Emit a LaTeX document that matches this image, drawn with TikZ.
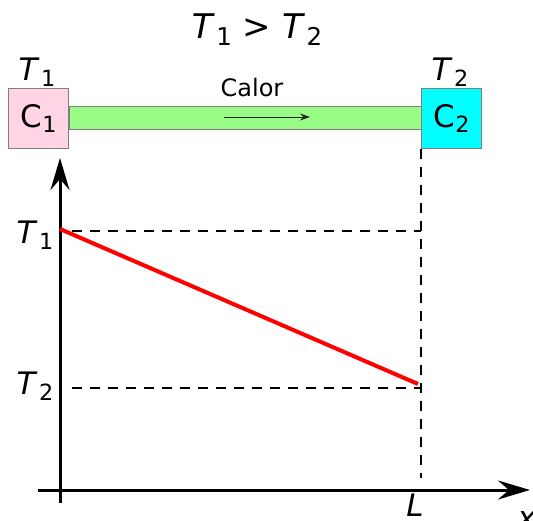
\documentclass[tikz,border=0pt]{standalone}
\usepackage{fontspec}
\setmainfont{DejaVu Sans}
\usepackage{graphicx}
\usepackage{xcolor}
\usetikzlibrary{arrows.meta,positioning,calc}
\definecolor{cPink}{HTML}{FFD5E5}
\definecolor{cRod}{HTML}{99FC86}
\definecolor{cCyan}{HTML}{00FFFF}
\definecolor{cEdge}{HTML}{7F7F7F}
\definecolor{cInk}{HTML}{000000}
\definecolor{cHot}{HTML}{FF0000}
\newcommand\Tq[1]{\textit{T}\kern1.5pt\raisebox{-0.33ex}{\scalebox{0.72}{#1}}}
\newcommand\Cq[1]{C\kern0.5pt\raisebox{-0.33ex}{\scalebox{0.72}{#1}}}
\tikzset{
  >=Stealth,
  blk/.style ={draw=cEdge,line width=1pt,minimum size=60pt,inner sep=0pt,font=\fontsize{31}{31}\selectfont},
  lbl/.style ={inner sep=0pt,anchor=base,font=\fontsize{31}{31}\selectfont},
  axis/.style={-{Stealth[length=32pt,width=19pt,inset=11pt]},line width=3pt,cInk},
  guide/.style={dash pattern=on 10pt off 8pt,line width=2pt,cInk},
  prof/.style={line width=4pt,cHot},
}

\begin{document}
\begin{tikzpicture}[x=1pt,y=-1pt]
\useasboundingbox (0,0) rectangle (533,521);
% title
\node[lbl,font=\fontsize{34}{34}\selectfont] (ttl) at (257,39) {\Tq{1} > \Tq{2}};
% bodies and rod
\node[blk,fill=cPink] (c1) at (38.5,118.5) {\Cq{1}};
\node[blk,fill=cCyan] (c2) at (451.5,118.5) {\Cq{2}};
\coordinate (rt) at (0,107);
\coordinate (rb) at (0,130);
\filldraw[fill=cRod,draw=cEdge,line width=1pt] (c1.east |- rt) rectangle (c2.west |- rb);
\node[lbl] (t1top) at (37,81)  {\Tq{1}};
\node[lbl] (t2top) at (450,81) {\Tq{2}};
\node[lbl,font=\fontsize{24}{24}\selectfont] (calor) at (252,97) {Calor};
\coordinate (qs) at (224,117);
\coordinate (qe) at (310,117);
\draw[-{Stealth[length=10pt,width=7pt]},line width=0.9pt,cInk!85] (qs) -- (qe);
% axes
\coordinate (yb) at (60,503);
\coordinate (yt) at (60,158);
\coordinate (xl) at (38,490);
\coordinate (xr) at (530,490);
\draw[axis] (yb) -- (yt);
\draw[axis] (xl) -- (xr);
% guides
\coordinate (g1) at (72,231);
\coordinate (g2) at (72,388);
\coordinate (gb) at (421,478);
\draw[guide] (g1) -- (g1 -| c2.west);
\draw[guide] (g2) -- (g2 -| c2.west);
\draw[guide] (c2.south west) -- (gb);
% profile
\coordinate (p1) at (60,229);
\coordinate (p2) at (418,384);
\draw[prof] (p1) -- (p2);
% labels
\node[lbl] (ly1) at (35,244) {\Tq{1}};
\node[lbl] (ly2) at (35,395) {\Tq{2}};
\node[lbl] (lL)  at (415,516) {\textit{L}};
\node[lbl] (lx)  at (527,528) {\textit{x}};
\end{tikzpicture}
\end{document}
